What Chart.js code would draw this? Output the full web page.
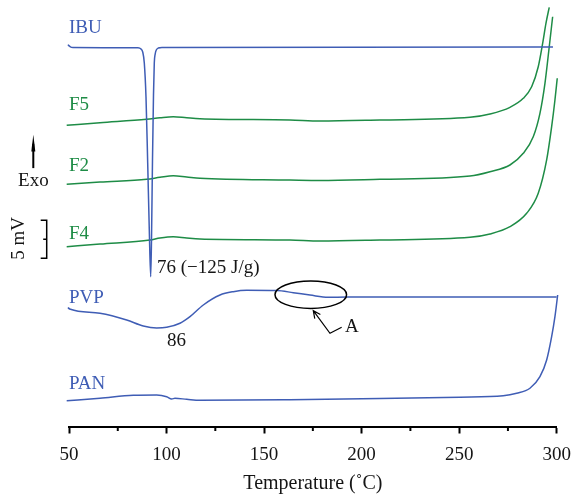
<!DOCTYPE html>
<html>
<head>
<meta charset="utf-8">
<script src="https://cdn.jsdelivr.net/npm/chart.js@4.4.1/dist/chart.umd.min.js"></script>
<style>
  html, body { margin: 0; padding: 0; background: #fff; }
  canvas { display: block; }
</style>
</head>
<body>
<canvas id="dsc" width="572" height="498"></canvas>
<script>
// DSC thermograms, stacked (temperature in degC, heat flow in mV with offsets)
const tempIBU = [48.97, 49.49, 50.51, 52.05, 85.37, 86.90, 87.78, 88.60, 89.47, 90.34, 91.16, 91.88, 92.29, 92.80, 93.31, 93.72, 94.18, 94.75, 95.77, 97.67, 298.08];
const flowIBU = [50.59, 50.26, 50.00, 49.87, 49.83, 49.67, 49.28, 47.83, 43.36, 34.67, 25.86, 19.71, 24.54, 35.07, 43.62, 47.83, 49.01, 49.54, 49.80, 49.87, 49.93];

const tempF5 = [48.82, 65.89, 89.83, 96.64, 103.46, 110.33, 117.14, 163.27, 178.65, 209.41, 255.54, 265.79, 276.04, 282.86, 287.16, 290.54, 292.80, 294.49, 296.18];
const flowF5 = [39.63, 39.97, 40.42, 40.62, 40.76, 40.62, 40.50, 40.33, 40.20, 40.33, 40.68, 41.12, 42.00, 43.18, 44.71, 47.34, 50.42, 53.05, 55.16];

const tempF2 = [48.82, 65.89, 89.83, 96.64, 103.46, 110.33, 117.14, 163.27, 178.65, 209.41, 255.54, 265.79, 276.04, 282.86, 287.98, 291.41, 293.98, 296.18, 297.92];
const flowF2 = [31.87, 32.17, 32.53, 32.79, 33.00, 32.83, 32.66, 32.43, 32.37, 32.53, 32.96, 33.53, 34.41, 35.95, 38.13, 41.21, 45.16, 49.97, 53.92];

const tempF4 = [48.82, 65.89, 91.52, 96.64, 103.46, 110.33, 117.14, 163.27, 178.65, 209.41, 255.54, 265.79, 276.04, 284.60, 290.54, 294.85, 297.41, 299.10, 300.28];
const flowF4 = [23.66, 24.01, 24.54, 24.80, 24.97, 24.80, 24.67, 24.54, 24.41, 24.54, 24.89, 25.33, 26.29, 28.05, 30.68, 35.07, 39.45, 42.96, 45.82];

const tempPVP = [48.97, 49.49, 50.77, 65.89, 79.57, 88.08, 94.95, 100.08, 106.89, 112.02, 118.84, 127.40, 134.21, 141.08, 156.46, 164.97, 173.53, 182.91, 192.34, 299.97];
const flowPVP = [15.99, 15.66, 15.42, 14.89, 14.01, 13.22, 12.96, 13.05, 13.58, 14.45, 15.99, 17.30, 17.74, 17.92, 17.89, 17.61, 17.30, 17.00, 17.04, 17.04];

const tempPAN = [48.82, 65.89, 82.96, 94.95, 100.08, 102.64, 104.33, 110.33, 117.14, 163.27, 209.41, 250.41, 272.60, 279.47, 286.29, 291.41, 294.85, 297.41, 299.10, 300.49, 301.00];
const flowPAN = [3.39, 3.71, 4.11, 4.14, 3.92, 3.62, 3.71, 3.58, 3.45, 3.53, 3.68, 3.86, 4.04, 4.37, 5.03, 6.55, 8.75, 11.82, 14.45, 17.30, 18.49];

const xTicks = [50, 100, 150, 200, 250, 300];
const xMinorTicks = [75, 125, 175, 225, 275];

const BLUE = '#3f5db5';
const GREEN = '#1e8c46';
const INK = '#151515';
const SERIF = '"Liberation Serif", "DejaVu Serif", serif';

function pts(t, v) {
    return t.map((x, i) => ({ x: x, y: v[i] }));
}

function line(label, t, v, color) {
    return {
        label: label,
        data: pts(t, v),
        borderColor: color,
        borderWidth: 1.5,
        pointRadius: 0,
        fill: false,
        cubicInterpolationMode: 'monotone',
        clip: false
    };
}

// curve names, peak labels, Exo arrow, 5 mV bar, circled region A
const annotations = {
    id: 'annotations',
    afterDraw(chart) {
        const ctx = chart.ctx;
        const xs = chart.scales.x;
        const ys = chart.scales.y;
        const px = (t) => xs.getPixelForValue(t);
        const py = (v) => ys.getPixelForValue(v);

        ctx.save();

        // minor ticks
        ctx.strokeStyle = '#000';
        ctx.lineWidth = 2;
        xMinorTicks.forEach((t) => {
            ctx.beginPath();
            ctx.moveTo(px(t), ys.bottom);
            ctx.lineTo(px(t), ys.bottom + 4.5);
            ctx.stroke();
        });

        ctx.font = '19px ' + SERIF;
        ctx.textAlign = 'left';
        ctx.textBaseline = 'alphabetic';

        const names = [
            ['IBU', 51.78, BLUE], ['F5', 41.64, GREEN], ['F2', 33.62, GREEN],
            ['F4', 24.61, GREEN], ['PVP', 16.25, BLUE], ['PAN', 4.93, BLUE]
        ];
        names.forEach(([txt, v, c]) => {
            ctx.fillStyle = c;
            ctx.fillText(txt, px(50), py(v));
        });

        ctx.fillStyle = INK;
        ctx.fillText('76 (\u2212125 J/g)', px(95.1), py(20.26));
        ctx.fillText('86', px(100.2), py(10.53));
        ctx.fillText('A', px(191.5), py(12.43));
        ctx.fillText('Exo', px(23.9), py(31.71));

        // Exo arrow
        ctx.strokeStyle = '#000';
        ctx.lineWidth = 2;
        const ax = px(31.7);
        ctx.beginPath();
        ctx.moveTo(ax, py(34.0));
        ctx.lineTo(ax, py(37.2));
        ctx.stroke();
        ctx.beginPath();
        ctx.moveTo(ax, py(38.4));
        ctx.lineTo(ax - 2, py(36.2));
        ctx.lineTo(ax + 2, py(36.2));
        ctx.closePath();
        ctx.fillStyle = '#000';
        ctx.fill();

        // 5 mV scale bar
        ctx.lineWidth = 1.5;
        const bx = px(38.57);
        const top = py(27.15), bot = py(22.15), mid = py(24.65);
        ctx.beginPath();
        ctx.moveTo(bx - 6, top); ctx.lineTo(bx, top);
        ctx.lineTo(bx, bot); ctx.lineTo(bx - 6, bot);
        ctx.moveTo(bx - 3.5, mid); ctx.lineTo(bx, mid);
        ctx.stroke();

        ctx.save();
        ctx.translate(px(24.4), py(24.74));
        ctx.rotate(-Math.PI / 2);
        ctx.textAlign = 'center';
        ctx.textBaseline = 'middle';
        ctx.fillStyle = INK;
        ctx.fillText('5 mV', 0, 0);
        ctx.restore();

        // ellipse around region A
        const ex = px(173.94), ey = py(17.34);
        const rx = px(173.94 + 18.35) - ex, ry = ey - py(17.34 + 1.80);
        ctx.lineWidth = 1.5;
        ctx.strokeStyle = '#000';
        ctx.beginPath();
        ctx.ellipse(ex, ey, rx, ry, 0, 0, Math.PI * 2);
        ctx.stroke();

        // leader from A to ellipse
        const p1 = [px(189.77), py(13.05)];
        const p2 = [px(183.78), py(12.26)];
        const p3 = [px(175.22), py(15.24)];
        ctx.lineWidth = 1.2;
        ctx.beginPath();
        ctx.moveTo(p1[0], p1[1]);
        ctx.lineTo(p2[0], p2[1]);
        ctx.lineTo(p3[0], p3[1]);
        const ang = Math.atan2(p3[1] - p2[1], p3[0] - p2[0]);
        const hl = 8;
        ctx.moveTo(p3[0] - hl * Math.cos(ang - 0.45), p3[1] - hl * Math.sin(ang - 0.45));
        ctx.lineTo(p3[0], p3[1]);
        ctx.lineTo(p3[0] - hl * Math.cos(ang + 0.45), p3[1] - hl * Math.sin(ang + 0.45));
        ctx.stroke();

        ctx.restore();
    }
};

new Chart(document.getElementById('dsc').getContext('2d'), {
    type: 'line',
    data: {
        datasets: [
            line('IBU', tempIBU, flowIBU, BLUE),
            line('F5', tempF5, flowF5, GREEN),
            line('F2', tempF2, flowF2, GREEN),
            line('F4', tempF4, flowF4, GREEN),
            line('PVP', tempPVP, flowPVP, BLUE),
            line('PAN', tempPAN, flowPAN, BLUE)
        ]
    },
    options: {
        responsive: false,
        animation: false,
        layout: { padding: { left: 69, right: 15.3, top: 0, bottom: 0 } },
        plugins: {
            legend: { display: false },
            tooltip: { enabled: false }
        },
        scales: {
            x: {
                type: 'linear',
                min: 50,
                max: 300,
                afterBuildTicks: (scale) => {
                    scale.ticks = xTicks.map((v) => ({ value: v }));
                },
                afterFit: (scale) => {
                    scale.height = 71.5;
                    scale.paddingLeft = 0;
                    scale.paddingRight = 0;
                },
                border: { display: true, color: '#000', width: 2 },
                grid: {
                    drawOnChartArea: false,
                    drawTicks: true,
                    tickLength: 7,
                    tickWidth: 2,
                    tickColor: '#000'
                },
                ticks: {
                    padding: 10,
                    maxRotation: 0,
                    color: INK,
                    font: { family: SERIF, size: 19 }
                },
                title: {
                    display: true,
                    text: 'Temperature (\u02daC)',
                    color: INK,
                    padding: { top: 0, bottom: 2 },
                    font: { family: SERIF, size: 20 }
                }
            },
            y: {
                display: false,
                min: 0,
                max: 56.12
            }
        }
    },
    plugins: [annotations]
});
</script>
</body>
</html>
